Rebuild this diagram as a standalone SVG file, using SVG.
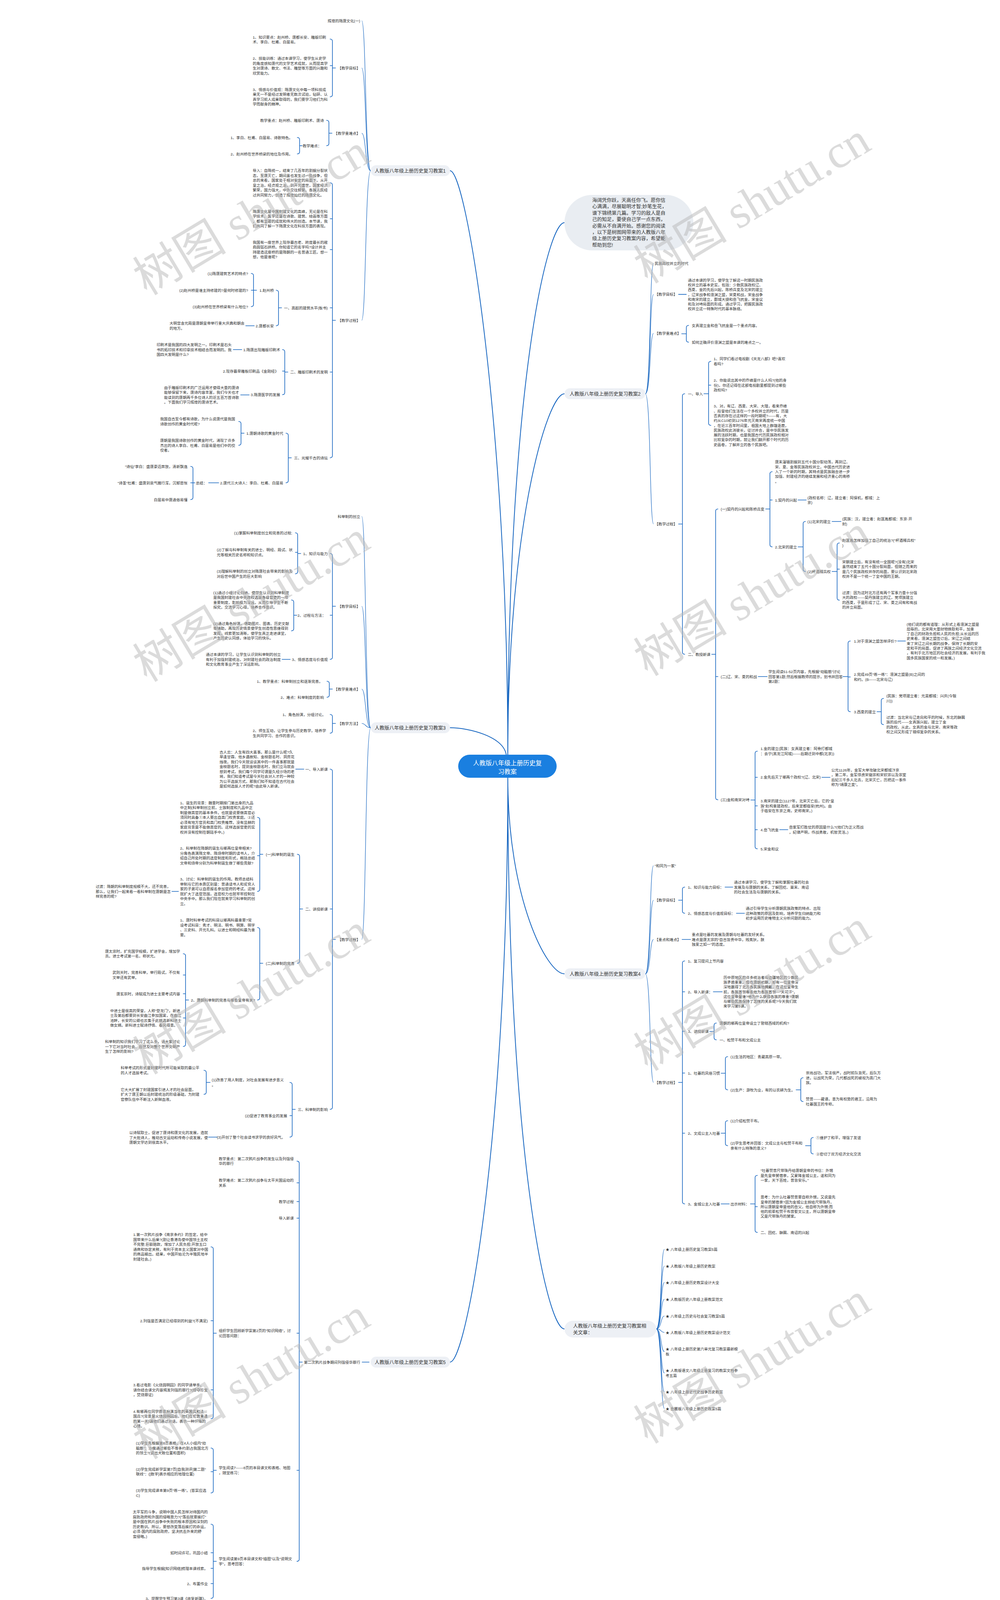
<svg xmlns="http://www.w3.org/2000/svg" width="2560" height="4155" viewBox="0 0 2560 4155">
<style>
.t{font-family:"Liberation Sans","Noto Sans CJK SC",sans-serif;font-size:9.6px;fill:#333}
.e{text-anchor:end}
.bt{font-family:"Liberation Sans","Noto Sans CJK SC",sans-serif;font-size:12.5px;fill:#333}
.rt{font-family:"Liberation Sans","Noto Sans CJK SC",sans-serif;font-size:16px;fill:#fff;text-anchor:middle}
.bn{fill:#edf0f5}
.c{fill:none;stroke:#1565c0;stroke-width:1.6;stroke-linecap:round}
.s{fill:none;stroke:#1565c0;stroke-width:1.2}
.m{fill:none;stroke:#1565c0;stroke-width:2}
.wm{font-family:"Liberation Serif","Noto Sans CJK SC",serif;font-size:120px;fill:#b8b8b8;fill-opacity:.5;text-anchor:middle}
</style>
<rect width="2560" height="4155" fill="#fff"/>
<g id="connectors">
<path class="m" d="M1300 1932C1300 1100 1195 437 1152 437"/>
<path class="m" d="M1296 1932C1288 1885 1200 1863 1152 1863"/>
<path class="m" d="M1300 1991C1300 2900 1195 3487 1152 3487"/>
<path class="m" d="M1300 1932C1300 1000 1400 570 1445 570"/>
<path class="m" d="M1300 1932C1300 1350 1400 1008 1445 1008"/>
<path class="m" d="M1300 1991C1300 2300 1400 2493 1445 2493"/>
<path class="m" d="M1300 1991C1300 2950 1400 3402 1445 3402"/>
<path class="s" d="M949 437C935 437 937 53 926 53M949 437C935 437 937 174 926 174M949 437C935 437 937 341 926 341M949 437C935 437 937 820 926 820"/>
<path class="s" d="M949 1863C935 1863 937 1322 926 1322M949 1863C935 1863 937 1552 926 1552M949 1863C935 1863 937 1764 926 1764M949 1863C935 1863 937 1852 926 1852M949 1863C935 1863 937 2405 926 2405"/>
<path class="c" d="M945 3487H927"/>
<path class="s" d="M1652 1008C1666 1008 1663 674 1673 674M1652 1008C1666 1008 1663 753.6 1673 753.6M1652 1008C1666 1008 1663 853.5 1673 853.5M1652 1008C1666 1008 1663 1341.5 1673 1341.5"/>
<path class="s" d="M1652 2493C1666 2493 1663 2216 1673 2216M1652 2493C1666 2493 1663 2304.5 1673 2304.5M1652 2493C1666 2493 1663 2405 1673 2405M1652 2493C1666 2493 1663 2771 1673 2771"/>
<path class="s" d="M1680 3402C1694 3402 1691 3198 1701 3198M1680 3402C1694 3402 1691 3241 1701 3241M1680 3402C1694 3402 1691 3283 1701 3283M1680 3402C1694 3402 1691 3326 1701 3326M1680 3402C1694 3402 1691 3369 1701 3369M1680 3402C1694 3402 1691 3411 1701 3411M1680 3402C1694 3402 1691 3460 1701 3460M1680 3402C1694 3402 1691 3515 1701 3515M1680 3402C1694 3402 1691 3563 1701 3563M1680 3402C1694 3402 1691 3606 1701 3606"/>
<path class="c" d="M845 100Q851 100 851 106V242Q851 248 845 248M851 168H845M851 174H859"/>
<path class="c" d="M836 308Q842 308 842 314V367Q842 373 836 373M842 341H850"/>
<path class="c" d="M761 352Q767 352 767 358V388Q767 394 761 394M767 373H774"/>
<path class="c" d="M845 468Q851 468 851 474V1166Q851 1172 845 1172M851 560H845M851 639H845M851 788H845M851 952.5H845M851 820H859"/>
<path class="c" d="M707 743Q713 743 713 749V828Q713 834 707 834M713 788H721"/>
<path class="c" d="M643 700Q649 700 649 706V779Q649 785 643 785M649 743H643M649 743H657"/>
<path class="c" d="M723 895Q729 895 729 901V1004.5Q729 1010.5 723 1010.5M729 950H723M729 952.5H737"/>
<path class="c" d="M732 1109Q738 1109 738 1115V1230Q738 1236 732 1236M738 1172H746"/>
<path class="c" d="M611 1079Q617 1079 617 1085V1134Q617 1140 611 1140M617 1109H625"/>
<path class="c" d="M488 1194Q494 1194 494 1200V1273Q494 1279 488 1279M494 1236H488M494 1236H499"/>
<path class="c" d="M651 834H629M619 895H597M638 1011H616M560 1236H534"/>
<path class="c" d="M845 1417Q851 1417 851 1423V1682Q851 1688 845 1688M851 1575H845M851 1552H859"/>
<path class="c" d="M756 1364Q762 1364 762 1370V1463Q762 1469 756 1469M762 1414H756M762 1417H770"/>
<path class="c" d="M746 1536Q752 1536 752 1542V1609Q752 1615 746 1615M752 1575H760"/>
<path class="c" d="M743 1688H722"/>
<path class="c" d="M837 1744Q843 1744 843 1750V1779Q843 1785 837 1785M843 1764H851"/>
<path class="c" d="M845 1829Q851 1829 851 1835V1871Q851 1877 845 1877M851 1852H859"/>
<path class="c" d="M845 1969Q851 1969 851 1975V2834Q851 2840 845 2840M851 2327H845M851 2405H859"/>
<path class="c" d="M778 1969H757"/>
<path class="c" d="M761 2187Q767 2187 767 2193V2460Q767 2466 761 2466M767 2327H775"/>
<path class="c" d="M659 2092.5Q665 2092.5 665 2098.5V2276Q665 2282 659 2282M665 2190.5H659M665 2187H673"/>
<path class="c" d="M457 2282H440"/>
<path class="c" d="M659 2374.5Q665 2374.5 665 2380.5V2554Q665 2560 659 2560M665 2466H673"/>
<path class="c" d="M469 2441.5Q475 2441.5 475 2447.5V2673Q475 2679 469 2679M475 2496H469M475 2544H469M475 2606H469M475 2560H483"/>
<path class="c" d="M742 2771Q748 2771 748 2777V2905Q748 2911 742 2911M748 2856H742M748 2840H756"/>
<path class="c" d="M522 2740Q528 2740 528 2746V2795.5Q528 2801.5 522 2801.5M528 2771H538"/>
<path class="c" d="M556 2911H534"/>
<path class="c" d="M760 2972.5Q766 2972.5 766 2978.5V3991Q766 3997 760 3997M766 3028H760M766 3076H760M766 3118.5H760M766 3413H760M766 3764H760M766 3487H774"/>
<path class="c" d="M540 3192Q546 3192 546 3198V3626Q546 3632 540 3632M546 3381H540M546 3558H540M546 3413H554"/>
<path class="c" d="M540 3707Q546 3707 546 3713V3816Q546 3822 540 3822M546 3767.5H540M546 3764H554"/>
<path class="c" d="M540 3902Q546 3902 546 3908V4086Q546 4092 540 4092M546 3975H540M546 4015H540M546 4054H540M546 3997H554"/>
<path class="c" d="M1737 753.6H1757"/>
<path class="c" d="M1763 833Q1757 833 1757 839V870Q1757 876 1763 876M1757 854.5H1745"/>
<path class="c" d="M1753 1008Q1747 1008 1747 1014V1669Q1747 1675 1753 1675M1747 1341.5H1737"/>
<path class="c" d="M1820 925Q1814 925 1814 931V1083Q1814 1089 1820 1089M1814 986H1820M1814 1008H1802"/>
<path class="c" d="M1838 1303Q1832 1303 1832 1309V2041.5Q1832 2047.5 1838 2047.5M1832 1732H1838M1832 1675H1822"/>
<path class="c" d="M1977 1207.5Q1971 1207.5 1971 1213.5V1394Q1971 1400 1977 1400M1971 1280H1977M1971 1303H1960"/>
<path class="c" d="M2043 1280H2064"/>
<path class="c" d="M2062 1335Q2056 1335 2056 1341V1457Q2056 1463 2062 1463M2056 1400H2043"/>
<path class="c" d="M2130 1335H2153"/>
<path class="c" d="M2149 1390Q2143 1390 2143 1396V1530.5Q2143 1536.5 2149 1536.5M2143 1457H2149M2143 1463H2130"/>
<path class="c" d="M1941 1732H1964"/>
<path class="c" d="M2177 1641Q2171 1641 2171 1647V1816Q2171 1822 2177 1822M2171 1733H2177M2171 1732H2158"/>
<path class="c" d="M2298 1641H2318"/>
<path class="c" d="M2262 1788Q2256 1788 2256 1794V1849Q2256 1855 2262 1855M2256 1822H2245"/>
<path class="c" d="M1939 1923Q1933 1923 1933 1929V2167Q1933 2173 1939 2173M1933 1990H1939M1933 2063H1939M1933 2124H1939M1933 2048H1922"/>
<path class="c" d="M2104 1990H2125M1996 2124H2017"/>
<path class="c" d="M1753 2271Q1747 2271 1747 2277V2332Q1747 2338 1753 2338M1747 2304.5H1737"/>
<path class="c" d="M1856 2271H1876M1885 2338H1906M1746 2405H1768"/>
<path class="c" d="M1753 2460Q1747 2460 1747 2466V3076Q1747 3082 1753 3082M1747 2539H1753M1747 2640H1753M1747 2747H1753M1747 2901H1753M1747 2771H1737"/>
<path class="c" d="M1826 2539H1849"/>
<path class="c" d="M1834 2619Q1828 2619 1828 2625V2656Q1828 2662 1834 2662M1828 2640.5H1817"/>
<path class="c" d="M1863 2705Q1857 2705 1857 2711V2784Q1857 2790 1863 2790M1857 2747.5H1846"/>
<path class="c" d="M2056 2759Q2050 2759 2050 2765V2814Q2050 2820 2056 2820M2050 2790H2038"/>
<path class="c" d="M1863 2869Q1857 2869 1857 2875V2927Q1857 2933 1863 2933M1857 2901H1846"/>
<path class="c" d="M2082 2912Q2076 2912 2076 2918V2948Q2076 2954 2082 2954M2076 2933H2062"/>
<path class="c" d="M1846 3082H1867"/>
<path class="c" d="M1939 3009Q1933 3009 1933 3015V3149Q1933 3155 1939 3155M1933 3089H1939M1933 3082H1921"/>
</g>
<g id="root"><rect x="1173" y="1932" width="252" height="59" rx="29.5" fill="#1a7fe0"/><text class="rt" x="1299" y="1959">人教版八年级上册历史复<tspan x="1299" dy="22">习教案</tspan></text></g>
<g id="intro"><rect x="1445" y="499" width="330" height="142" rx="71" fill="#e9edf2"/><text class="bt" x="1516" y="517">海阔凭你跃，天高任你飞。愿你信<tspan x="1516" dy="16.4">心满满，尽展聪明才智;妙笔生花，</tspan><tspan x="1516" dy="16.4">谱下锦绣第几篇。学习的敌人是自</tspan><tspan x="1516" dy="16.4">己的知足，要使自己学一点东西，</tspan><tspan x="1516" dy="16.4">必需从不自满开始。感谢您的阅读</tspan><tspan x="1516" dy="16.4">，以下是树图网带来的人教版八年</tspan><tspan x="1516" dy="16.4">级上册历史复习教案内容，希望能</tspan><tspan x="1516" dy="16.4">帮助到您!</tspan></text></g>
<g id="b1"><rect class="bn" x="949" y="423" width="203" height="28" rx="14"/><text class="bt" x="959" y="441.5">人教版八年级上册历史复习教案1</text></g>
<g id="b3"><rect class="bn" x="949" y="1849" width="203" height="28" rx="14"/><text class="bt" x="959" y="1867.5">人教版八年级上册历史复习教案3</text></g>
<g id="b5"><rect class="bn" x="949" y="3473" width="203" height="28" rx="14"/><text class="bt" x="959" y="3491.5">人教版八年级上册历史复习教案5</text></g>
<g id="b2"><rect class="bn" x="1445" y="994" width="207" height="28" rx="14"/><text class="bt" x="1458" y="1012.5">人教版八年级上册历史复习教案2</text></g>
<g id="b4"><rect class="bn" x="1445" y="2479" width="207" height="28" rx="14"/><text class="bt" x="1458" y="2497.5">人教版八年级上册历史复习教案4</text></g>
<g id="b6"><rect class="bn" x="1445" y="3381" width="235" height="43" rx="21.5"/><text class="bt" x="1467" y="3398.5">人教版八年级上册历史复习教案相<tspan x="1467" dy="17">关文章：</tspan></text></g>
<g id="n1-1"><text class="t e" x="922" y="56.5">辉煌的隋唐文化(一)</text></g>
<g id="n1-2"><text class="t e" x="922" y="177.5">【教学目标】</text></g>
<g id="n1-2a"><text class="t" x="647" y="98.75">1、知识要点：赵州桥、唐都长安、雕版印刷<tspan x="647" dy="12.5">术、李白、杜甫、白居易。</tspan></text></g>
<g id="n1-2b"><text class="t" x="647" y="153.25">2、技能训练：通过本课学习，使学生从史学<tspan x="647" dy="12.5">的角度感知唐代的文学艺术成就，从而提高学</tspan><tspan x="647" dy="12.5">生对唐诗、散文、书法、雕塑等方面的兴趣和</tspan><tspan x="647" dy="12.5">欣赏能力。</tspan></text></g>
<g id="n1-2c"><text class="t" x="647" y="232.75">3、情感与价值观：隋唐文化中每一项科技成<tspan x="647" dy="12.5">果无一不是经过发明者无数次试验，钻研、认</tspan><tspan x="647" dy="12.5">真学习前人成果取得的，我们要学习他们为科</tspan><tspan x="647" dy="12.5">学而献身的精神。</tspan></text></g>
<g id="n1-3"><text class="t e" x="922" y="344.5">【教学重难点】</text></g>
<g id="n1-3a"><text class="t e" x="829" y="311.5">教学重点：赵州桥、雕版印刷术、唐诗</text></g>
<g id="n1-3b"><text class="t e" x="823" y="376.5">教学难点：</text></g>
<g id="n1-3b1"><text class="t e" x="749" y="355.5">1、李白、杜甫、白居易、诗歌特色。</text></g>
<g id="n1-3b2"><text class="t e" x="749" y="397.5">2、赵州桥在世界桥梁的地位及作用。</text></g>
<g id="n1-4"><text class="t e" x="922" y="823.5">【教学过程】</text></g>
<g id="n1-4a"><text class="t" x="647" y="440.25">导入：自隋统一，结束了几百年的割据分裂状<tspan x="647" dy="12.5">态，至唐灭亡，期间虽也发生过一些战争，但</tspan><tspan x="647" dy="12.5">总的来看，国家处于相对安定的局面下。从开</tspan><tspan x="647" dy="12.5">皇之治，经贞观之治，到开元盛世，国家经济</tspan><tspan x="647" dy="12.5">繁荣，国力强大，中外交往频繁。各族人民经</tspan><tspan x="647" dy="12.5">过共同努力，创造了辉煌灿烂的隋唐文化。</tspan></text></g>
<g id="n1-4b"><text class="t" x="647" y="544.75">隋唐文化是中国封建文化的高峰，无论是在科<tspan x="647" dy="12.5">学技术、医学还是在诗歌、建筑、绘画等方面</tspan><tspan x="647" dy="12.5">，都有显著的成就和伟大的创造。本节课，我</tspan><tspan x="647" dy="12.5">们共同了解一下隋唐文化在科技方面的表现。</tspan></text></g>
<g id="n1-4c"><text class="t" x="647" y="623.75">我国有一座世界上现存最古老、跨度最长的敞<tspan x="647" dy="12.5">肩圆弧石拱桥。你知道它的名字吗?设计并主</tspan><tspan x="647" dy="12.5">持建造这座桥的是隋朝的一名普通工匠。想一</tspan><tspan x="647" dy="12.5">想，他是谁呢?</tspan></text></g>
<g id="n1-4d"><text class="t e" x="839" y="791.5">一、高超的建筑水平(板书)</text></g>
<g id="n1-4d1"><text class="t e" x="701" y="746.5">1.赵州桥</text></g>
<g id="n1-4d1a"><text class="t e" x="635" y="703.5">(1)隋唐建筑艺术的特点?</text></g>
<g id="n1-4d1b"><text class="t e" x="635" y="746.5">(2)赵州桥是谁主持修建的?是何时修建的?</text></g>
<g id="n1-4d1c"><text class="t e" x="635" y="788.5">(3)赵州桥在世界桥梁有什么地位?</text></g>
<g id="n1-4d2"><text class="t e" x="701" y="837.5">2.唐都长安</text></g>
<g id="n1-4d2a"><text class="t" x="434" y="831.25">大明宫含元殿是唐朝皇帝举行重大庆典和朝会<tspan x="434" dy="12.5">的地方。</tspan></text></g>
<g id="n1-4e"><text class="t e" x="839" y="956">二、雕版印刷术的发明</text></g>
<g id="n1-4e1"><text class="t e" x="717" y="898.5">1.隋唐出现雕版印刷术</text></g>
<g id="n1-4e1a"><text class="t" x="401" y="886">印刷术是我国的四大发明之一。印刷术是石头<tspan x="401" dy="12.5">书的拓印技术和印章技术相结合而发明的。我</tspan><tspan x="401" dy="12.5">国四大发明是什么?</tspan></text></g>
<g id="n1-4e2"><text class="t e" x="713" y="953.5">2.现存最早雕板印刷品《金刚经》</text></g>
<g id="n1-4e3"><text class="t e" x="717" y="1014">3.隋唐医学的发展</text></g>
<g id="n1-4e3a"><text class="t" x="420" y="995.75">由于雕版印刷术的广泛运用才使得大量的唐诗<tspan x="420" dy="12.5">能够保留下来，唐诗内容丰富，我们今天也才</tspan><tspan x="420" dy="12.5">能读到的唐朝两千多位诗人的近五百万首诗歌</tspan><tspan x="420" dy="12.5">。下面我们学习辉煌的唐诗艺术。</tspan></text></g>
<g id="n1-4f"><text class="t e" x="839" y="1175.5">三、光耀千古的诗坛</text></g>
<g id="n1-4f1"><text class="t e" x="725" y="1112.5">1.唐朝诗歌的黄金时代</text></g>
<g id="n1-4f1a"><text class="t" x="410" y="1076.25">我国自古至今都有诗歌，为什么说唐代是我国<tspan x="410" dy="12.5">诗歌创作的黄金时代呢?</tspan></text></g>
<g id="n1-4f1b"><text class="t" x="410" y="1131">唐朝是我国诗歌创作的黄金时代，涌现了许多<tspan x="410" dy="12.5">杰出的诗人李白、杜甫、白居易是他们中的佼</tspan><tspan x="410" dy="12.5">佼者。</tspan></text></g>
<g id="n1-4f2"><text class="t e" x="725" y="1239.5">2.唐代三大诗人：李白、杜甫、白居易</text></g>
<g id="n1-4f2a"><text class="t e" x="530" y="1239.5">总结：</text></g>
<g id="n1-4f2a1"><text class="t e" x="480" y="1197.5">“诗仙”李白：盛唐豪迈奔放，清新飘逸</text></g>
<g id="n1-4f2a2"><text class="t e" x="480" y="1239.5">“诗圣”杜甫：盛唐到衰气魄行浑，沉郁悲怅</text></g>
<g id="n1-4f2a3"><text class="t e" x="480" y="1282.5">白居易中唐通俗易懂</text></g>
<g id="n3-1"><text class="t e" x="922" y="1325.5">科举制的创立</text></g>
<g id="n3-2"><text class="t e" x="922" y="1555.5">【教学目标】</text></g>
<g id="n3-2a"><text class="t e" x="839" y="1420.5">1、知识与能力</text></g>
<g id="n3-2a1"><text class="t e" x="748" y="1367.5">(1)掌握科举制度创立和完善的过程;</text></g>
<g id="n3-2a2"><text class="t" x="555" y="1411.25">(2)了解与科举制有关的进士、明经、殿试、状<tspan x="555" dy="12.5">元等相关历史名称和知识点。</tspan></text></g>
<g id="n3-2a3"><text class="t" x="555" y="1466.25">(3)理解科举制的创立对隋唐社会带来的影响及<tspan x="555" dy="12.5">对后世中国产生的巨大影响</tspan></text></g>
<g id="n3-2b"><text class="t e" x="834" y="1578.5">2、过程与方法：</text></g>
<g id="n3-2b1"><text class="t" x="546" y="1520.75">(1)通过小组讨论归纳，使学生认识到科举制度<tspan x="546" dy="12.5">是我国封建社会中央政权选拔各级官吏的一项</tspan><tspan x="546" dy="12.5">重要制度，影响极为深远，从而引导学生不断</tspan><tspan x="546" dy="12.5">探究，交流学习心得，培养合作意识。</tspan></text></g>
<g id="n3-2b2"><text class="t" x="546" y="1599.75">(2)通过角色扮演，借助图片、图表、历史文献<tspan x="546" dy="12.5">等辅助，再现历史情景使学生创造性思维得到</tspan><tspan x="546" dy="12.5">发挥，线索更加清晰，使学生真正走进课堂，</tspan><tspan x="546" dy="12.5">产生历史认同感，体验学习的快乐。</tspan></text></g>
<g id="n3-2c"><text class="t e" x="839" y="1691.5">3、情感态度与价值观</text></g>
<g id="n3-2c1"><text class="t" x="527" y="1679">通过本课的学习，让学生认识到科举制的创立<tspan x="527" dy="12.5">有利于加强封建统治，对封建社会的政治制度</tspan><tspan x="527" dy="12.5">和文化教育事业产生了深远影响。</tspan></text></g>
<g id="n3-3"><text class="t e" x="922" y="1767.5">【教学重难点】</text></g>
<g id="n3-3a"><text class="t e" x="826" y="1747.5">1、教学重点：科举制创立和逐渐完善。</text></g>
<g id="n3-3b"><text class="t e" x="829" y="1788.5">2、难点：科举制度的影响</text></g>
<g id="n3-4"><text class="t e" x="922" y="1855.5">【教学方法】</text></g>
<g id="n3-4a"><text class="t e" x="834" y="1832.5">1、角色扮演，分组讨论。</text></g>
<g id="n3-4b"><text class="t" x="647" y="1874.25">2、师生互动，让学生参与历史教学，培养学<tspan x="647" dy="12.5">生共同学习、合作的意识。</tspan></text></g>
<g id="n3-5"><text class="t e" x="922" y="2408.5">【教学过程】</text></g>
<g id="n3-5a"><text class="t e" x="839" y="1972.5">一、导入新课</text></g>
<g id="n3-5a1"><text class="t" x="562" y="1928.75">古人云：人生有四大喜事。那么是什么呢?久<tspan x="562" dy="12.5">旱逢甘霖、他乡遇故知、金榜题名时、洞房花</tspan><tspan x="562" dy="12.5">烛夜。我们今天就谈谈其中的一件喜事那就是</tspan><tspan x="562" dy="12.5">金榜题名时，提到金榜题名时，我们立马就会</tspan><tspan x="562" dy="12.5">想到考试，我们每个同学可谓是久经沙场的老</tspan><tspan x="562" dy="12.5">将，我们知道考试是今天社会对人才的一种较</tspan><tspan x="562" dy="12.5">为公平选拔方式。那我们知不知道在古代社会</tspan><tspan x="562" dy="12.5">是如何选拔人才的呢?由此导入新课。</tspan></text></g>
<g id="n3-5b"><text class="t e" x="839" y="2330.5">二、讲授新课</text></g>
<g id="n3-5b1"><text class="t e" x="754" y="2190.5">(一)科举制的诞生</text></g>
<g id="n3-5b1a"><text class="t" x="461" y="2058.5">1、诞生的背景：魏晋时期按门第出身的九品<tspan x="461" dy="12.5">中正制(科举制创立前，士族制度和九品中正</tspan><tspan x="461" dy="12.5">制是做高官的基本条件。也就是说要做高官必</tspan><tspan x="461" dy="12.5">须同时具备①本人要出自高门权贵家庭。②还</tspan><tspan x="461" dy="12.5">必须有地方官员和高门权贵推荐。没有显赫的</tspan><tspan x="461" dy="12.5">家庭背景是不能做高官的。这样选拔官吏的实</tspan><tspan x="461" dy="12.5">权并没有控制在朝廷手中。)</tspan></text></g>
<g id="n3-5b1b"><text class="t" x="461" y="2175.25">2、科举制在隋朝的诞生与哪两位皇帝相关?<tspan x="461" dy="12.5">分角色表演隋文帝、隋炀帝时期的读书人，介</tspan><tspan x="461" dy="12.5">绍自己所处时期的选官制度和形式，概括总结</tspan><tspan x="461" dy="12.5">文帝和炀帝分别为科举制诞生做了哪些贡献?</tspan></text></g>
<g id="n3-5b1c"><text class="t" x="461" y="2254.25">3、讨论：科举制的诞生的作用。教师总结科<tspan x="461" dy="12.5">举制与它的本质区别是：普通读书人和贫穷人</tspan><tspan x="461" dy="12.5">家的子弟可以自愿报名参加官府的考试，这样</tspan><tspan x="461" dy="12.5">就扩大了选官范围，选官权力也就牢牢控制在</tspan><tspan x="461" dy="12.5">中央手中。那么我们现在就来学习科举制的创</tspan><tspan x="461" dy="12.5">立。</tspan></text></g>
<g id="n3-5b1c1"><text class="t" x="245" y="2273">过渡：隋朝的科举制度规模不大，还不完善，<tspan x="245" dy="12.5">那么，让我们一起来看一看科举制在唐朝是怎</tspan><tspan x="245" dy="12.5">样完善的呢?</tspan></text></g>
<g id="n3-5b2"><text class="t e" x="754" y="2469.5">(二)科举制的完善</text></g>
<g id="n3-5b2a"><text class="t" x="461" y="2359.25">1、唐时科举考试的科目以哪两科最重要?常<tspan x="461" dy="12.5">设考试科目：秀才、明法、明书、明算、明字</tspan><tspan x="461" dy="12.5">、三史科、开元礼科。以进士和明经科最为重</tspan><tspan x="461" dy="12.5">要。</tspan></text></g>
<g id="n3-5b2b"><text class="t e" x="653" y="2563.5">2、唐朝科举制的完善与哪些皇帝有关?</text></g>
<g id="n3-5b2b1"><text class="t" x="269" y="2438.75">唐太宗时，扩充国学规模，扩进学舍，增加学<tspan x="269" dy="12.5">员。进士考试第一名，称状元。</tspan></text></g>
<g id="n3-5b2b2"><text class="t" x="288" y="2493.25">武则天时，完善科举，举行殿试，不仅有<tspan x="288" dy="12.5">文举还有武举。</tspan></text></g>
<g id="n3-5b2b3"><text class="t e" x="461" y="2547.5">唐玄宗时，诗赋成为进士主要考试内容</text></g>
<g id="n3-5b2b4"><text class="t" x="282" y="2590.75">中进士是很高的荣誉，人称“登龙门”。新进<tspan x="282" dy="12.5">士及第后都要到长安曲江参加国宴，在曲江</tspan><tspan x="282" dy="12.5">池畔，长安的公卿也云集于此挑选新科进士</tspan><tspan x="282" dy="12.5">做女婿。新科进士赋诗抒情、春风得意。</tspan></text></g>
<g id="n3-5b2b5"><text class="t" x="269" y="2670">科举制的知识我们学习了这么多，请大家讨论<tspan x="269" dy="12.5">一下它对当时社会、后世及对整个世界文明产</tspan><tspan x="269" dy="12.5">生了怎样的影响?</tspan></text></g>
<g id="n3-5c"><text class="t e" x="839" y="2843.5">三、科举制的影响</text></g>
<g id="n3-5c1"><text class="t" x="542" y="2768.25">(1)改善了用人制度，对社会发展有进步意义<tspan x="542" dy="12.5">。</tspan></text></g>
<g id="n3-5c1a"><text class="t" x="309" y="2737.25">科举考试的形式是封建时代所可能采取的最公平<tspan x="309" dy="12.5">的人才选拔考试。</tspan></text></g>
<g id="n3-5c1b"><text class="t" x="309" y="2792.5">它大大扩展了封建国家引进人才的社会层面，<tspan x="309" dy="12.5">扩大了唐王朝以后封建统治的阶级基础，为封建</tspan><tspan x="309" dy="12.5">官僚队伍中不断注入新鲜血液。</tspan></text></g>
<g id="n3-5c2"><text class="t e" x="735" y="2859.5">(2)促进了教育事业的发展</text></g>
<g id="n3-5c3"><text class="t e" x="730" y="2914.5">(3)开创了整个社会读书求学的良好风气。</text></g>
<g id="n3-5c3a"><text class="t" x="331" y="2903">以诗赋取士，促进了唐诗和唐文化的发展，造就<tspan x="331" dy="12.5">了大批诗人，推动古文运动和传奇小说发展，使</tspan><tspan x="331" dy="12.5">唐朝文学达到很高水平。</tspan></text></g>
<g id="n5-1"><text class="t e" x="922" y="3490.5">第二次鸦片战争期间列强侵华罪行</text></g>
<g id="n5-1a"><text class="t" x="560" y="2969.75">教学重点：第二次鸦片战争的发生以及列强侵<tspan x="560" dy="12.5">华的罪行</tspan></text></g>
<g id="n5-1b"><text class="t" x="560" y="3025.25">教学难点：第二次鸦片战争与太平天国运动的<tspan x="560" dy="12.5">关系</tspan></text></g>
<g id="n5-1c"><text class="t e" x="752" y="3079.5">教学过程</text></g>
<g id="n5-1d"><text class="t e" x="752" y="3122">导入新课</text></g>
<g id="n5-1e"><text class="t" x="560" y="3410.25">组织学生回顾新学案第2页的“知识网络”，讨<tspan x="560" dy="12.5">论回答问题：</tspan></text></g>
<g id="n5-1e1"><text class="t" x="341" y="3164.25">1.第一次鸦片战争《南京条约》的签定，给中<tspan x="341" dy="12.5">国带来什么后果?(割让香港岛使中国领土主权</tspan><tspan x="341" dy="12.5">不完整;巨额赔款，增加了人民负担;开放五口</tspan><tspan x="341" dy="12.5">通商和协定关税，有利于资本主义国家对中国</tspan><tspan x="341" dy="12.5">的商品输出。结果，中国开始沦为半殖民地半</tspan><tspan x="341" dy="12.5">封建社会。)</tspan></text></g>
<g id="n5-1e2"><text class="t e" x="532" y="3384.5">2.列强是否满足已经得到的利益?(不满足)</text></g>
<g id="n5-1e3"><text class="t" x="341" y="3549">3.看过电影《火烧圆明园》的同学请举手。<tspan x="341" dy="12.5">请你结合课文内容揭发列强的罪行?(掠夺珍宝</tspan><tspan x="341" dy="12.5">，焚烧罪证)</tspan></text></g>
<g id="n5-1e4"><text class="t" x="341" y="3616.75">4.有哪两位同学愿意扮演当年的英国兵和法<tspan x="341" dy="12.5">国兵?(背景是火烧圆明园后，他们在伦敦重逢</tspan><tspan x="341" dy="12.5">的某一天)请他们通过对话，表示一种忏悔的</tspan><tspan x="341" dy="12.5">心情。</tspan></text></g>
<g id="n5-1f"><text class="t" x="560" y="3761.25">学生阅读7——8页的本目课文和表格、地图<tspan x="560" dy="12.5">，随堂练习：</tspan></text></g>
<g id="n5-1f1"><text class="t" x="348" y="3698">(1)学生先根据第8页表格，在4人小组内“动<tspan x="348" dy="12.5">脑筋”：沙俄通过哪些不等条约割占我国北方</tspan><tspan x="348" dy="12.5">的领土?(说出大致位置和面积)</tspan></text></g>
<g id="n5-1f2"><text class="t" x="348" y="3764.75">(2)学生完成新学案第7页[自我测评]第二题“<tspan x="348" dy="12.5">联线”：([数字]表示相应的地理位置)</tspan></text></g>
<g id="n5-1f3"><text class="t" x="348" y="3819.25">(3)学生完成课本第9页“练一练”。(答案应选<tspan x="348" dy="12.5">C)</tspan></text></g>
<g id="n5-1g"><text class="t" x="560" y="3994.25">学生阅读第9页本目课文和“插图”以及“说明文<tspan x="560" dy="12.5">字”，思考回答：</tspan></text></g>
<g id="n5-1g1"><text class="t" x="340" y="3874.25">太平军的斗争，说明中国人民怎样对待国内的<tspan x="340" dy="12.5">腐败政府和外国的侵略势力?(“落后就要挨打”</tspan><tspan x="340" dy="12.5">是中国在鸦片战争中失败的根本原因和深刻的</tspan><tspan x="340" dy="12.5">历史教训。所以，要想改变落后挨打的命运，</tspan><tspan x="340" dy="12.5">必须-国内的腐败政府，坚决抗击外来的野</tspan><tspan x="340" dy="12.5">蛮侵略。)</tspan></text></g>
<g id="n5-1g2"><text class="t e" x="532" y="3978.5">如时间许可，巩固小结</text></g>
<g id="n5-1g3"><text class="t e" x="532" y="4018.5">指导学生根据[知识网络]梳理本课线索。</text></g>
<g id="n5-1g4"><text class="t e" x="532" y="4057.5">2、布置作业</text></g>
<g id="n5-1g5"><text class="t e" x="532" y="4095.5">3、提醒学生预习第3课《收复新疆》。</text></g>
<g id="n2-1"><text class="t" x="1676" y="677.5">民族政权并立的时代</text></g>
<g id="n2-2"><text class="t" x="1676" y="757">【教学目标】</text></g>
<g id="n2-2a"><text class="t" x="1761" y="720.6">通过本课的学习，使学生了解这一时期民族政<tspan x="1761" dy="12.3">权并立的基本史实，包括：少数民族政权辽、</tspan><tspan x="1761" dy="12.3">西夏、金的先后兴起，陈桥兵变及北宋的建立</tspan><tspan x="1761" dy="12.3">，辽宋战争和澶渊之盟，宋夏和战，宋金战争</tspan><tspan x="1761" dy="12.3">和南宋的建立，郾城大捷和岳飞抗金，宋金议</tspan><tspan x="1761" dy="12.3">和及对峙局面的形成。通过学习，把握民族政</tspan><tspan x="1761" dy="12.3">权并立这一特殊时代的基本脉络。</tspan></text></g>
<g id="n2-3"><text class="t" x="1676" y="857">【教学重难点】</text></g>
<g id="n2-3a"><text class="t" x="1771" y="836.5">女真建立金和岳飞抗金是一个重点内容。</text></g>
<g id="n2-3b"><text class="t" x="1771" y="879.5">如何正确评价澶渊之盟是本课的难点之一。</text></g>
<g id="n2-4"><text class="t" x="1676" y="1345">【教学过程】</text></g>
<g id="n2-4a"><text class="t" x="1761" y="1011.5">一、导入</text></g>
<g id="n2-4a1"><text class="t" x="1827" y="922.35">1、同学们看过电视剧《天龙八部》吧?喜欢<tspan x="1827" dy="12.3">看吗?</tspan></text></g>
<g id="n2-4a2"><text class="t" x="1827" y="977.2">2、你能说出其中的乔峰是什么人吗?(他的身<tspan x="1827" dy="12.3">份)，你还记得在这部电视剧里都提到过哪些</tspan><tspan x="1827" dy="12.3">政权吗?</tspan></text></g>
<g id="n2-4a3"><text class="t" x="1827" y="1043.3">3、对，有辽、西夏、大宋、大理，看来乔峰<tspan x="1827" dy="12.3">、段誉他们生活在一个多权并立的时代，历是</tspan><tspan x="1827" dy="12.3">否真的存在过这样的一段时期呢?——有，大</tspan><tspan x="1827" dy="12.3">约从C10初到1276年元灭南宋再度统一中国</tspan><tspan x="1827" dy="12.3">，在近三百年时间里，祖国大地上群雄逐鹿，</tspan><tspan x="1827" dy="12.3">民族政权此消彼长，征讨并合，是中华民族发</tspan><tspan x="1827" dy="12.3">展的活跃时期，也是我国古代历民族政权相对</tspan><tspan x="1827" dy="12.3">比较复杂的时期，就让我们翻开那个时代的历</tspan><tspan x="1827" dy="12.3">史画卷，了解并立的各个民族吧。</tspan></text></g>
<g id="n2-4b"><text class="t" x="1761" y="1678.5">二、教授新课</text></g>
<g id="n2-4b1"><text class="t" x="1845" y="1306.5">(一)契丹的兴起和陈桥兵变</text></g>
<g id="n2-4b1a"><text class="t" x="1984" y="1186.4">唐末藩镇割据到五代十国分裂动荡，再到辽、<tspan x="1984" dy="12.3">宋、夏、金等民族政权并立，中国古代历史进</tspan><tspan x="1984" dy="12.3">入了一个新的时期，其特点是民族融合进一步</tspan><tspan x="1984" dy="12.3">加强、封建经济的继续发展和经济重心的南移</tspan><tspan x="1984" dy="12.3">。</tspan></text></g>
<g id="n2-4b1b"><text class="t" x="1984" y="1283.5">1.契丹的兴起</text></g>
<g id="n2-4b1b1"><text class="t" x="2067" y="1278">(政权名称：辽，建立者：阿保机，都城：上<tspan x="2067" dy="12.3">京)</tspan></text></g>
<g id="n2-4b1c"><text class="t" x="1984" y="1403.5">2.北宋的建立</text></g>
<g id="n2-4b1c1"><text class="t" x="2067" y="1338.5">(1)北宋的建立</text></g>
<g id="n2-4b1c1a"><text class="t" x="2156" y="1332.35">(民族：汉，建立者：赵匡胤都城：东京·开<tspan x="2156" dy="12.3">封)</tspan></text></g>
<g id="n2-4b1c2"><text class="t" x="2067" y="1466.5">(2)杯酒释兵权</text></g>
<g id="n2-4b1c2a"><text class="t" x="2156" y="1387.35">赵匡胤怎样加强了自己的统治?(“杯酒释兵权”<tspan x="2156" dy="12.3">)</tspan></text></g>
<g id="n2-4b1c2b"><text class="t" x="2156" y="1442">宋朝建立后，有没有统一全国呢?(没有)北宋<tspan x="2156" dy="12.3">虽然结束了五代十国分裂局面，但随之而来的</tspan><tspan x="2156" dy="12.3">是几个民族政权并存的局面，要认识到北宋政</tspan><tspan x="2156" dy="12.3">权并不是一个统一了全中国的王朝。</tspan></text></g>
<g id="n2-4b1c2c"><text class="t" x="2156" y="1521">过渡：因为这时北方还有两个军事力量十分强<tspan x="2156" dy="12.3">大的政权——契丹族建立的辽，党项族建立</tspan><tspan x="2156" dy="12.3">的西夏，于是形成了辽、宋、夏之间有和有战</tspan><tspan x="2156" dy="12.3">的并立局面。</tspan></text></g>
<g id="n2-4b2"><text class="t" x="1845" y="1735.5">(二)辽、宋、夏的和战</text></g>
<g id="n2-4b2a"><text class="t" x="1967" y="1723.2">学生阅读51-52页内容，先根据“动脑筋”讨论<tspan x="1967" dy="12.3">回答第1题;然后根据教师的提示，划书并回答</tspan><tspan x="1967" dy="12.3">第2题：</tspan></text></g>
<g id="n2-4b2a1"><text class="t" x="2186" y="1644.5">1.对于澶渊之盟怎样评价?</text></g>
<g id="n2-4b2a1a"><text class="t" x="2321" y="1601.5">(他们说的都有道理：从形式上看澶渊之盟是<tspan x="2321" dy="12.3">屈辱的，北宋用大量财物换取和平，加重</tspan><tspan x="2321" dy="12.3">了自己的财政负担和人民的负担;从长远的历</tspan><tspan x="2321" dy="12.3">史来看，澶渊之盟签订后，宋辽之间结</tspan><tspan x="2321" dy="12.3">束了宋辽之间长期的战争，保持了长期的安</tspan><tspan x="2321" dy="12.3">定和平的局面，促进了两族之间经济文化交流</tspan><tspan x="2321" dy="12.3">，有利于北方地区的社会经济的发展，有利于我</tspan><tspan x="2321" dy="12.3">国多民族国家的统一和发展。)</tspan></text></g>
<g id="n2-4b2a2"><text class="t" x="2186" y="1730.35">2.完成49页“练一练”：澶渊之盟是(B)之间的<tspan x="2186" dy="12.3">和约。(B——北宋与辽)</tspan></text></g>
<g id="n2-4b2a3"><text class="t" x="2186" y="1825.5">3.西夏的建立</text></g>
<g id="n2-4b2a3a"><text class="t" x="2269" y="1785.35">(民族：党项建立者：元昊都城：兴庆(今银<tspan x="2269" dy="12.3">川))</tspan></text></g>
<g id="n2-4b2a3b"><text class="t" x="2269" y="1840">过渡：当北宋与辽走向和平的时候，东北的靺鞨<tspan x="2269" dy="12.3">族的后代——女真族兴起，建立了金</tspan><tspan x="2269" dy="12.3">的政权。从此，女真的金与北宋、南宋等政</tspan><tspan x="2269" dy="12.3">权之间又形成了错综复杂的关系。</tspan></text></g>
<g id="n2-4b3"><text class="t" x="1845" y="2051">(三)金和南宋对峙</text></g>
<g id="n2-4b3a"><text class="t" x="1947" y="1920.35">1.金的建立(民族：女真建立者：阿骨打都城<tspan x="1947" dy="12.3">：会宁(黑龙江阿城)——后期迁到中都(北京))</tspan></text></g>
<g id="n2-4b3b"><text class="t" x="1947" y="1993">2.金先后灭了哪两个政权?(辽、北宋)</text></g>
<g id="n2-4b3b1"><text class="t" x="2128" y="1975">公元1126年，金军大举攻破北宋都城汴京<tspan x="2128" dy="12.3">，第二年，金军俘虏宋徽宗和宋钦宗以及宗室</tspan><tspan x="2128" dy="12.3">后妃三千多人北去，北宋灭亡，历把这一事件</tspan><tspan x="2128" dy="12.3">称为“靖康之变”。</tspan></text></g>
<g id="n2-4b3c"><text class="t" x="1947" y="2054.2">3.南宋的建立(1127年，北宋灭亡后，它的“皇<tspan x="1947" dy="12.3">族”赵构重建政权，后来定都临安(杭州)。由</tspan><tspan x="1947" dy="12.3">于临安在东京之南，史称南宋。)</tspan></text></g>
<g id="n2-4b3d"><text class="t" x="1947" y="2127.5">4.岳飞抗金</text></g>
<g id="n2-4b3d1"><text class="t" x="2020" y="2121.35">岳家军打胜仗的原因是什么?(他们为正义而战<tspan x="2020" dy="12.3">，纪律严明，作战勇敢，机智灵活。)</tspan></text></g>
<g id="n2-4b3e"><text class="t" x="1947" y="2176.5">5.宋金和议</text></g>
<g id="n4-1"><text class="t" x="1676" y="2219.5">“和同为一家”</text></g>
<g id="n4-2"><text class="t" x="1676" y="2308">【教学目标】</text></g>
<g id="n4-2a"><text class="t" x="1761" y="2274.5">1、知识与能力目标：</text></g>
<g id="n4-2a1"><text class="t" x="1879" y="2262.2">通过本课学习，使学生了解和掌握吐蕃的社会<tspan x="1879" dy="12.3">发展及与唐朝的关系，了解回纥、粟末、南诏</tspan><tspan x="1879" dy="12.3">的社会生活及与唐朝的关系。</tspan></text></g>
<g id="n4-2b"><text class="t" x="1761" y="2341.5">2、情感态度与价值观目标：</text></g>
<g id="n4-2b1"><text class="t" x="1909" y="2329.2">通过引导学生分析唐朝民族政策的特点、出现<tspan x="1909" dy="12.3">这种政策的原因及影响，培养学生归纳能力和</tspan><tspan x="1909" dy="12.3">初步运用历史唯物主义分析问题的能力。</tspan></text></g>
<g id="n4-3"><text class="t" x="1676" y="2408.5">【重点和难点】</text></g>
<g id="n4-3a"><text class="t" x="1771" y="2396.2">重点是吐蕃的发展及唐朝与吐蕃的友好关系。<tspan x="1771" dy="12.3">难点是唐太宗的“自古皆贵中华，贱夷狄，朕</tspan><tspan x="1771" dy="12.3">独爱之如一”的态度。</tspan></text></g>
<g id="n4-4"><text class="t" x="1676" y="2774.5">【教学过程】</text></g>
<g id="n4-4a"><text class="t" x="1761" y="2463.5">1、复习提问上节内容</text></g>
<g id="n4-4b"><text class="t" x="1761" y="2542.5">2、导入新课：</text></g>
<g id="n4-4b1"><text class="t" x="1852" y="2505.6">历中原地区的许多统治者与边疆地区的少数民<tspan x="1852" dy="12.3">族矛盾重重。但在唐朝初期，却有一位皇帝深</tspan><tspan x="1852" dy="12.3">深地赢得了北方各民族地拥戴。在这位皇帝生</tspan><tspan x="1852" dy="12.3">前，各族首领尊奉他为各族首领—“天可汗”，</tspan><tspan x="1852" dy="12.3">这位皇帝是谁?他为什么获得各族的尊重?唐朝</tspan><tspan x="1852" dy="12.3">与哪些民族保持了怎样的关系呢?今天我们就</tspan><tspan x="1852" dy="12.3">来学习第5课。</tspan></text></g>
<g id="n4-4c"><text class="t" x="1761" y="2643.5">3、讲授新课</text></g>
<g id="n4-4c1"><text class="t" x="1842" y="2622.5">唐朝的哪两位皇帝设立了管辖西域的机构?</text></g>
<g id="n4-4c2"><text class="t" x="1842" y="2665.5">一、松赞干布和文成公主</text></g>
<g id="n4-4d"><text class="t" x="1761" y="2750.5">1、吐蕃的风俗习惯</text></g>
<g id="n4-4d1"><text class="t" x="1870" y="2708.5">(1)生活的地区：青藏高原一带。</text></g>
<g id="n4-4d2"><text class="t" x="1870" y="2793.5">(2)生产：游牧为业，有的以农耕为生。</text></g>
<g id="n4-4d2a"><text class="t" x="2063" y="2750.2">崇尚战功，军法很严，战时前队皆死，后队方<tspan x="2063" dy="12.3">进，以战死为荣，几代都战死的被视为高门大</tspan><tspan x="2063" dy="12.3">族。</tspan></text></g>
<g id="n4-4d2b"><text class="t" x="2063" y="2817.35">赞普——藏语，意为有权势的君王，沿用为<tspan x="2063" dy="12.3">吐蕃国王的专称。</tspan></text></g>
<g id="n4-4e"><text class="t" x="1761" y="2904.5">2、文成公主入吐蕃</text></g>
<g id="n4-4e1"><text class="t" x="1870" y="2872.5">(1)介绍松赞干布。</text></g>
<g id="n4-4e2"><text class="t" x="1870" y="2930.35">(2)学生思考并回答：文成公主与松赞干布和<tspan x="1870" dy="12.3">亲有什么特殊的意义?</tspan></text></g>
<g id="n4-4e2a"><text class="t" x="2089" y="2915.5">①维护了和平，增强了友谊</text></g>
<g id="n4-4e2b"><text class="t" x="2089" y="2957.5">②密切了双方经济文化交流</text></g>
<g id="n4-4f"><text class="t" x="1761" y="3085.5">3、金城公主入吐蕃</text></g>
<g id="n4-4f1"><text class="t" x="1870" y="3085.5">出示材料：</text></g>
<g id="n4-4f1a"><text class="t" x="1947" y="3000.2">“吐蕃赞普尺带珠丹给唐朝皇帝的书信：外甥<tspan x="1947" dy="12.3">是先皇帝舅宿亲，又蒙降金城公主，遂和同为</tspan><tspan x="1947" dy="12.3">一家，天下百姓，普皆安乐。”</tspan></text></g>
<g id="n4-4f1b"><text class="t" x="1947" y="3068.2">思考：为什么吐蕃赞普要自称外甥，又说是先<tspan x="1947" dy="12.3">皇帝的舅宿亲?因为金城公主嫁给尺带珠丹，</tspan><tspan x="1947" dy="12.3">所以唐朝皇帝是他的岳父，他自称为外甥;而</tspan><tspan x="1947" dy="12.3">他的前辈松赞干布曾娶文公主，所以唐朝皇帝</tspan><tspan x="1947" dy="12.3">又是尺带珠丹的舅家。</tspan></text></g>
<g id="n4-4f1c"><text class="t" x="1947" y="3158.5">二、回纥、靺鞨、南诏的兴起</text></g>
<g id="n6-1"><text class="t" x="1704" y="3201.5">★ 八年级上册历史复习教案5篇</text></g>
<g id="n6-2"><text class="t" x="1704" y="3244.5">★ 人教版八年级上册历史教案</text></g>
<g id="n6-3"><text class="t" x="1704" y="3286.5">★ 八年级上册历史教案设计大全</text></g>
<g id="n6-4"><text class="t" x="1704" y="3329.5">★ 人教版历史八年级上册教案范文</text></g>
<g id="n6-5"><text class="t" x="1704" y="3372.5">★ 八年级上历史与社会复习教案5篇</text></g>
<g id="n6-6"><text class="t" x="1704" y="3414.5">★ 人教版八年级上册历史教案设计范文</text></g>
<g id="n6-7"><text class="t" x="1704" y="3457.35">★ 八年级上册历史第六单元复习教案最新模<tspan x="1704" dy="12.3">板</tspan></text></g>
<g id="n6-8"><text class="t" x="1704" y="3512.35">★ 人教版语文八年级上册复习的教案文档参<tspan x="1704" dy="12.3">考五篇</tspan></text></g>
<g id="n6-9"><text class="t" x="1704" y="3566.5">★ 八年级上册近代史战争历史教案</text></g>
<g id="n6-10"><text class="t" x="1704" y="3609.5">★ 岳麓版八年级上册历史教案5篇</text></g>
<g id="watermark">
<text class="wm" x="644" y="590" transform="rotate(-31 644 550)">树图 shutu.cn</text>
<text class="wm" x="644" y="1580" transform="rotate(-31 644 1540)">树图 shutu.cn</text>
<text class="wm" x="644" y="2585" transform="rotate(-31 644 2545)">树图 shutu.cn</text>
<text class="wm" x="644" y="3570" transform="rotate(-31 644 3530)">树图 shutu.cn</text>
<text class="wm" x="1926" y="560" transform="rotate(-31 1926 520)">树图 shutu.cn</text>
<text class="wm" x="1926" y="1565" transform="rotate(-31 1926 1525)">树图 shutu.cn</text>
<text class="wm" x="1926" y="2576" transform="rotate(-31 1926 2536)">树图 shutu.cn</text>
<text class="wm" x="1926" y="3530" transform="rotate(-31 1926 3490)">树图 shutu.cn</text>
</g>
</svg>
